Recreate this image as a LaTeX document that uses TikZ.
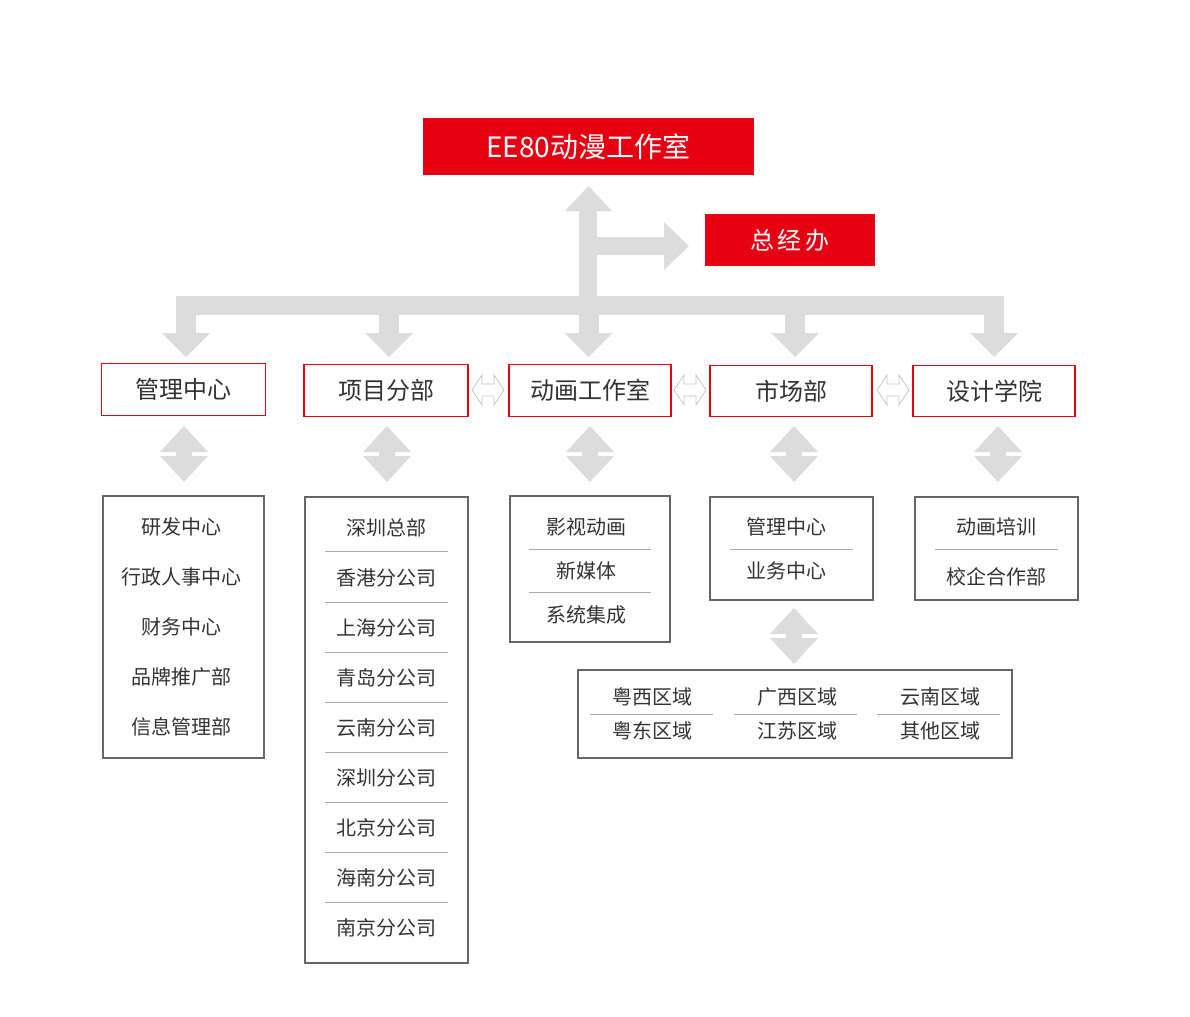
\documentclass[tikz,border=0pt]{standalone}
\usepackage{fontspec}
\setmainfont{Noto Sans CJK SC}
\definecolor{ered}{HTML}{E60012}
\definecolor{agray}{HTML}{DCDCDC}
\definecolor{tgray}{HTML}{333333}
\definecolor{bgray}{HTML}{666666}
\definecolor{sgray}{HTML}{AAAAAA}
\newcommand\vdarr[2]{%
  \fill[agray] (#1-24,#2-28) -- (#1,#2-54) -- (#1+24,#2-28) -- cycle;
  \fill[agray] (#1-24,#2-24) -- (#1,#2+2) -- (#1+24,#2-24) -- cycle;
  \fill[agray] (#1-8,#2-36) rectangle (#1+8,#2-16);}
\newcommand\hdarr[2]{%
  \draw[sgray!70,line width=0.6pt] (#1-16,#2) -- (#1-6,#2-15) -- (#1-6,#2-6) -- (#1+6,#2-6) -- (#1+6,#2-15) -- (#1+16,#2) -- (#1+6,#2+15) -- (#1+6,#2+6) -- (#1-6,#2+6) -- (#1-6,#2+15) -- cycle;}
\begin{document}
\begin{tikzpicture}[x=0.75pt,y=-0.75pt,
  lv2/.style={draw=ered,line width=0.9pt,fill=white,minimum height=38.5pt,text=tgray,font=\fontsize{18}{20}\selectfont,inner sep=0pt},
  lv3/.style={draw=bgray,line width=0.9pt,inner sep=0pt},
  itm/.style={text=tgray,font=\fontsize{15}{17}\selectfont,inner sep=0pt},
  sep/.style={draw=sgray,line width=0.6pt}]
\useasboundingbox (0,0) rectangle (1190,1017);
% top boxes
\node[fill=ered,text=white,minimum width=248pt,minimum height=43pt,inner sep=0pt,font=\fontsize{21}{24}\selectfont] (top) at (588.5,146.5) {EE80动漫工作室};
\node[fill=ered,text=white,minimum width=127.5pt,minimum height=39pt,inner sep=0pt,font=\fontsize{18}{20}\selectfont] (zjb) at (790,240) {总\,经\,办};
% gray arrows
\fill[agray] (579,210) rectangle (597,333);
\fill[agray] (565,211) -- (588.5,186) -- (612,211) -- cycle;
\fill[agray] (597,237) rectangle (665,255);
\fill[agray] (664,222) -- (689,246) -- (664,270) -- cycle;
\fill[agray] (176,296) rectangle (1004,315);
\foreach \x in {186,389,588.5,795,994}{
  \fill[agray] (\x-10,300) rectangle (\x+10,334);
  \fill[agray] (\x-24,333) -- (\x,357) -- (\x+24,333) -- cycle;}
% level 2
\node[lv2,minimum width=123.5pt] (a) at (183.5,389.5) {管理中心};
\node[lv2,minimum width=123pt] (b) at (386,390.5) {项目分部};
\node[lv2,minimum width=121.5pt] (c) at (590,390.5) {动画工作室};
\node[lv2,minimum width=121.5pt] (d) at (791,391) {市场部};
\node[lv2,minimum width=121.5pt] (e) at (994,391) {设计学院};
\hdarr{488}{390}\hdarr{690}{390}\hdarr{893}{390}
% vertical double arrows
\vdarr{184}{480}\vdarr{387}{480}\vdarr{590}{480}\vdarr{794}{480}\vdarr{998}{480}\vdarr{794}{662}
% level 3
\node[lv3,minimum width=120.75pt,minimum height=196.5pt] (a3) at (183.5,627) {};
\foreach \t [count=\i] in {研发中心,行政人事中心,财务中心,品牌推广部,信息管理部}
  \node[itm] (a\i) at (181,477+50*\i) {\t};
\node[lv3,minimum width=122.25pt,minimum height=349.5pt] (b3) at (386.5,730) {};
\foreach \t [count=\i] in {深圳总部,香港分公司,上海分公司,青岛分公司,云南分公司,深圳分公司,北京分公司,海南分公司,南京分公司}
  \node[itm] (b\i) at (386.5,478+50*\i) {\t};
\foreach \y in {551,602,652,702,752,802,852,902} \draw[sep] (325,\y) -- (448,\y);
\node[lv3,minimum width=120pt,minimum height=109.5pt] (c3) at (590,569) {};
\node[itm] (c1) at (586,527) {影视动画};
\node[itm] (c2) at (586,571) {新媒体};
\node[itm] (c3t) at (586,615) {系统集成};
\draw[sep] (529,549) -- (651,549); \draw[sep] (529,592) -- (651,592);
\node[lv3,minimum width=122.25pt,minimum height=77.25pt] (d3) at (791.5,548.5) {};
\node[itm] (d1) at (786,527) {管理中心};
\node[itm] (d2) at (786,571) {业务中心};
\draw[sep] (730,549) -- (853,549);
\node[lv3,minimum width=122.25pt,minimum height=77.25pt] (e3) at (996.5,548.5) {};
\node[itm] (e1) at (996,527) {动画培训};
\node[itm] (e2) at (996,577) {校企合作部};
\draw[sep] (935,549) -- (1058,549);
\node[lv3,minimum width=325.5pt,minimum height=66pt] (f3) at (795,714) {};
\node[itm] (f1) at (652,697) {粤西区域};
\node[itm] (f2) at (797,697) {广西区域};
\node[itm] (f3t) at (940,697) {云南区域};
\node[itm] (f4) at (652,731) {粤东区域};
\node[itm] (f5) at (797,731) {江苏区域};
\node[itm] (f6) at (940,731) {其他区域};
\draw[sep] (590,714) -- (713,714); \draw[sep] (734,714) -- (857,714); \draw[sep] (877,714) -- (1000,714);
\end{tikzpicture}
\end{document}
